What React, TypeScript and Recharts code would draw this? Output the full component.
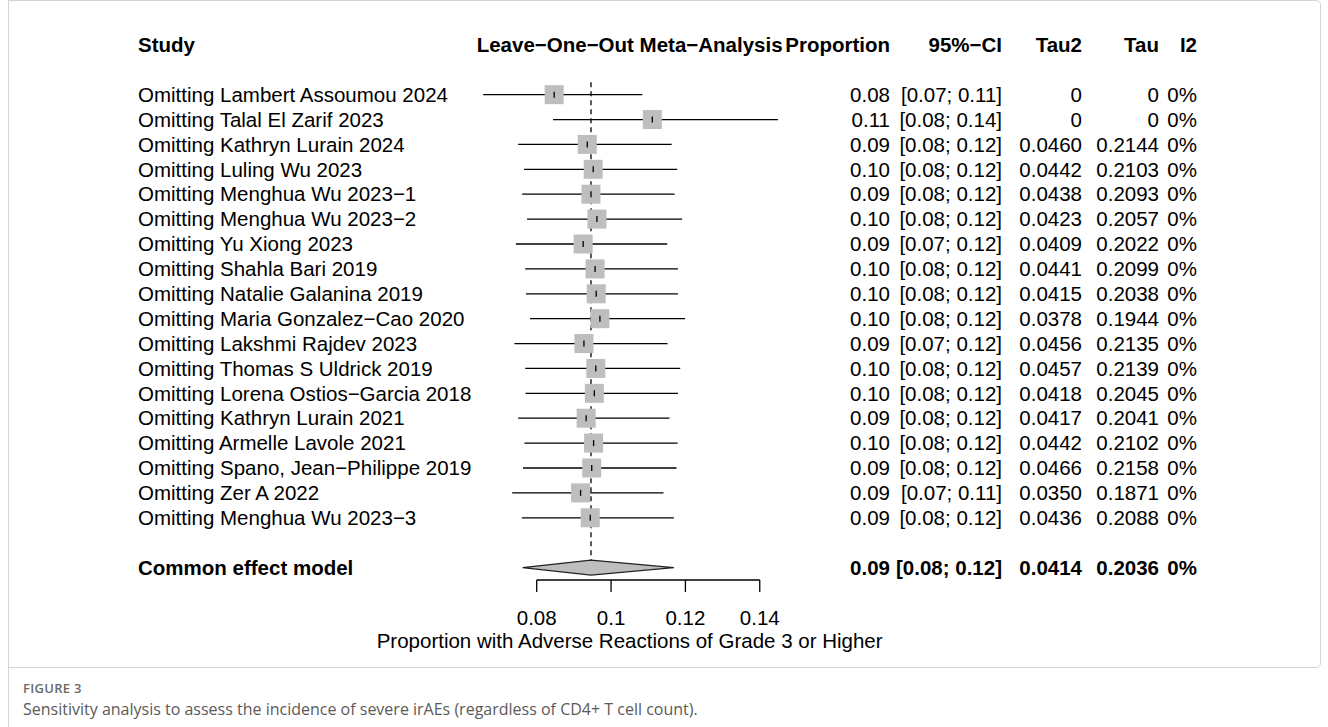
import React from 'react';
import { ComposedChart, Scatter, XAxis, YAxis, ErrorBar, ReferenceLine, Label } from 'recharts';

const studies = [
  'Omitting Lambert Assoumou 2024',
  'Omitting Talal El Zarif 2023',
  'Omitting Kathryn Lurain 2024',
  'Omitting Luling Wu 2023',
  'Omitting Menghua Wu 2023\u22121',
  'Omitting Menghua Wu 2023\u22122',
  'Omitting Yu Xiong 2023',
  'Omitting Shahla Bari 2019',
  'Omitting Natalie Galanina 2019',
  'Omitting Maria Gonzalez\u2212Cao 2020',
  'Omitting Lakshmi Rajdev 2023',
  'Omitting Thomas S Uldrick 2019',
  'Omitting Lorena Ostios\u2212Garcia 2018',
  'Omitting Kathryn Lurain 2021',
  'Omitting Armelle Lavole 2021',
  'Omitting Spano, Jean\u2212Philippe 2019',
  'Omitting Zer A 2022',
  'Omitting Menghua Wu 2023\u22123',
];
const estimates = [0.0847, 0.1111, 0.0936, 0.0952, 0.0946, 0.0962, 0.0925, 0.0957, 0.096, 0.097, 0.0927, 0.0959, 0.0955, 0.0933, 0.0953, 0.0948, 0.0918, 0.0944];
const lowerCI = [0.0656, 0.0844, 0.075, 0.0766, 0.0761, 0.0774, 0.0744, 0.0769, 0.0771, 0.0782, 0.074, 0.0769, 0.077, 0.075, 0.0767, 0.0763, 0.0734, 0.076];
const upperCI = [0.1084, 0.1449, 0.1163, 0.1178, 0.1171, 0.1191, 0.1151, 0.118, 0.118, 0.1199, 0.1152, 0.1186, 0.118, 0.1157, 0.1179, 0.1176, 0.1141, 0.1169];
const propLabels = ['0.08', '0.11', '0.09', '0.10', '0.09', '0.10', '0.09', '0.10', '0.10', '0.10', '0.09', '0.10', '0.10', '0.09', '0.10', '0.09', '0.09', '0.09'];
const ciLabels = [
  '[0.07; 0.11]', '[0.08; 0.14]', '[0.08; 0.12]', '[0.08; 0.12]', '[0.08; 0.12]', '[0.08; 0.12]',
  '[0.07; 0.12]', '[0.08; 0.12]', '[0.08; 0.12]', '[0.08; 0.12]', '[0.07; 0.12]', '[0.08; 0.12]',
  '[0.08; 0.12]', '[0.08; 0.12]', '[0.08; 0.12]', '[0.08; 0.12]', '[0.07; 0.11]', '[0.08; 0.12]',
];
const tau2Labels = ['0', '0', '0.0460', '0.0442', '0.0438', '0.0423', '0.0409', '0.0441', '0.0415', '0.0378', '0.0456', '0.0457', '0.0418', '0.0417', '0.0442', '0.0466', '0.0350', '0.0436'];
const tauLabels = ['0', '0', '0.2144', '0.2103', '0.2093', '0.2057', '0.2022', '0.2099', '0.2038', '0.1944', '0.2135', '0.2139', '0.2045', '0.2041', '0.2102', '0.2158', '0.1871', '0.2088'];
const i2Labels = ['0%', '0%', '0%', '0%', '0%', '0%', '0%', '0%', '0%', '0%', '0%', '0%', '0%', '0%', '0%', '0%', '0%', '0%'];

const pooledName = 'Common effect model';
const pooledEstimate = 0.0946;
const pooledLower = 0.0762;
const pooledUpper = 0.1169;
const pooledTexts = ['0.09', '[0.08; 0.12]', '0.0414', '0.2036', '0%'];

const headerTexts = ['Study', 'Leave\u2212One\u2212Out Meta\u2212Analysis', 'Proportion', '95%\u2212CI', 'Tau2', 'Tau', 'I2'];
const xTicks = [0.08, 0.1, 0.12, 0.14];
const xAxisTitle = 'Proportion with Adverse Reactions of Grade 3 or Higher';
const figureLabel = 'FIGURE 3';
const figureCaption = 'Sensitivity analysis to assess the incidence of severe irAEs (regardless of CD4+ T cell count).';

// row indices (y values): header -1, studies 1..18, pooled 20
const HEADER_ROW = -1;
const POOLED_ROW = 20;
const REF_TOP = 0.5;
const REF_BOTTOM = 19.7;
const AXIS_ROW = 20.5;

const studyData = studies.map((s, i) => ({
  x: estimates[i],
  y: i + 1,
  err: [estimates[i] - lowerCI[i], upperCI[i] - estimates[i]],
  name: s,
  prop: propLabels[i],
  ci: ciLabels[i],
  tau2: tau2Labels[i],
  tau: tauLabels[i],
  i2: i2Labels[i],
}));
const headerData = [{ x: (0.05 + 0.16) / 2, y: HEADER_ROW }];
const pooledData = [{ x: pooledEstimate, y: POOLED_ROW }];
const diamondData = [
  { x: pooledLower, y: POOLED_ROW },
  { x: pooledEstimate, y: POOLED_ROW },
  { x: pooledUpper, y: POOLED_ROW },
];

const FONT = '"Liberation Sans", Arial, Helvetica, sans-serif';
const FS = 20.5;
const COL_STUDY = 138;
const COL_PROP = 890;
const COL_CI = 1002;
const COL_TAU2 = 1082;
const COL_TAU = 1159;
const COL_I2 = 1197;
const SQ = 19;
const GRAY = '#bebebe';

const txt = (x: number, y: number, s: string, anchor: 'start' | 'middle' | 'end', bold = false, key?: string) => (
  <text key={key} x={x} y={y + FS * 0.35} textAnchor={anchor} fontSize={FS} fontFamily={FONT} fontWeight={bold ? 'bold' : 'normal'} fill="#000">
    {s}
  </text>
);

const SquareShape = (p: any) => {
  const { cx, cy } = p;
  return (
    <g>
      <rect x={cx - SQ / 2} y={cy - SQ / 2} width={SQ} height={SQ} fill={GRAY} />
    </g>
  );
};

const RowTextShape = (p: any) => {
  const { cx, cy, payload } = p;
  return (
    <g>
      <line x1={cx} x2={cx} y1={cy - 3} y2={cy + 3} stroke="#000" strokeWidth={1.3} />
      {txt(COL_STUDY, cy, payload.name, 'start')}
      {txt(COL_PROP, cy, payload.prop, 'end')}
      {txt(COL_CI, cy, payload.ci, 'end')}
      {txt(COL_TAU2, cy, payload.tau2, 'end')}
      {txt(COL_TAU, cy, payload.tau, 'end')}
      {txt(COL_I2, cy, payload.i2, 'end')}
    </g>
  );
};

const HeaderShape = (p: any) => {
  const { cx, cy } = p;
  return (
    <g>
      {txt(COL_STUDY, cy, headerTexts[0], 'start', true)}
      {txt(cx, cy, headerTexts[1], 'middle', true)}
      {txt(COL_PROP, cy, headerTexts[2], 'end', true)}
      {txt(COL_CI, cy, headerTexts[3], 'end', true)}
      {txt(COL_TAU2, cy, headerTexts[4], 'end', true)}
      {txt(COL_TAU, cy, headerTexts[5], 'end', true)}
      {txt(COL_I2, cy, headerTexts[6], 'end', true)}
    </g>
  );
};

const PooledShape = (p: any) => {
  const { cy } = p;
  return (
    <g>
      {txt(COL_STUDY, cy, pooledName, 'start', true)}
      {txt(COL_PROP, cy, pooledTexts[0], 'end', true)}
      {txt(COL_CI, cy, pooledTexts[1], 'end', true)}
      {txt(COL_TAU2, cy, pooledTexts[2], 'end', true)}
      {txt(COL_TAU, cy, pooledTexts[3], 'end', true)}
      {txt(COL_I2, cy, pooledTexts[4], 'end', true)}
    </g>
  );
};

const EmptyShape = () => <g />;

const DiamondLine = (props: any) => {
  const pts = props.points || [];
  if (pts.length < 3) return <g />;
  const [a, b, c] = pts;
  const h = 7.5;
  const d = `${a.x},${a.y} ${b.x},${b.y - h} ${c.x},${c.y} ${b.x},${b.y + h}`;
  return <polygon points={d} fill={GRAY} stroke="#222" strokeWidth={1.2} />;
};

export default function App() {
  return (
    <div style={{ position: 'absolute', left: 0, top: 0, width: 1328, height: 727, background: '#fff', overflow: 'hidden' }}>
      <div
        style={{
          position: 'absolute',
          left: 8,
          top: 0,
          width: 1313,
          height: 668,
          border: '1px solid #d4d4d4',
          borderLeft: 'none',
          borderTopRightRadius: 5,
          borderBottomRightRadius: 5,
          boxSizing: 'border-box',
        }}
      />
      <div style={{ position: 'absolute', left: 8, top: 0, width: 1, height: 727, background: '#d4d4d4' }} />
      <div style={{ position: 'absolute', left: 0, top: 0 }}>
        <ComposedChart width={1328} height={668} margin={{ top: 20, right: 493.9, bottom: 38, left: 425.2 }}>
          <XAxis
            type="number"
            dataKey="x"
            domain={[0.05, 0.16]}
            ticks={xTicks}
            interval={0}
            axisLine={false}
            tickLine={{ stroke: '#000', strokeWidth: 1.3 }}
            tickSize={12}
            tickMargin={18}
            height={50}
            tick={{ fontSize: FS, fill: '#000', fontFamily: FONT }}
          >
            <Label value={xAxisTitle} position="bottom" offset={3} style={{ fontSize: FS, fill: '#000', fontFamily: FONT }} />
          </XAxis>
          <YAxis type="number" dataKey="y" domain={[-2, 20.5]} reversed hide />
          <ReferenceLine
            segment={[{ x: pooledEstimate, y: REF_TOP }, { x: pooledEstimate, y: REF_BOTTOM }]}
            stroke="#000"
            strokeWidth={1.3}
            strokeDasharray="5 4"
          />
          <ReferenceLine segment={[{ x: xTicks[0], y: AXIS_ROW }, { x: xTicks[xTicks.length - 1], y: AXIS_ROW }]} stroke="#000" strokeWidth={1.3} />
          <Scatter data={studyData} shape={SquareShape} isAnimationActive={false} />
          <Scatter data={studyData} shape={RowTextShape} isAnimationActive={false}>
            <ErrorBar dataKey="err" direction="x" width={0} stroke="#000" strokeWidth={1.3} isAnimationActive={false} />
          </Scatter>
          <Scatter data={headerData} shape={HeaderShape} isAnimationActive={false} />
          <Scatter data={diamondData} shape={EmptyShape} line={DiamondLine} lineType="joint" isAnimationActive={false} />
          <Scatter data={pooledData} shape={PooledShape} isAnimationActive={false} />
        </ComposedChart>
      </div>
      <div
        style={{
          position: 'absolute',
          left: 23,
          top: 680,
          fontFamily: '"Open Sans", Lato, sans-serif',
          fontSize: 13,
          fontWeight: 600,
          color: '#6a6a6a',
          letterSpacing: 0.3,
          lineHeight: '16px',
        }}
      >
        {figureLabel}
      </div>
      <div
        style={{
          position: 'absolute',
          left: 23,
          top: 698,
          fontFamily: '"Open Sans", Lato, sans-serif',
          fontSize: 16,
          color: '#5a5a5a',
          lineHeight: '22px',
          whiteSpace: 'nowrap',
        }}
      >
        {figureCaption}
      </div>
    </div>
  );
}
